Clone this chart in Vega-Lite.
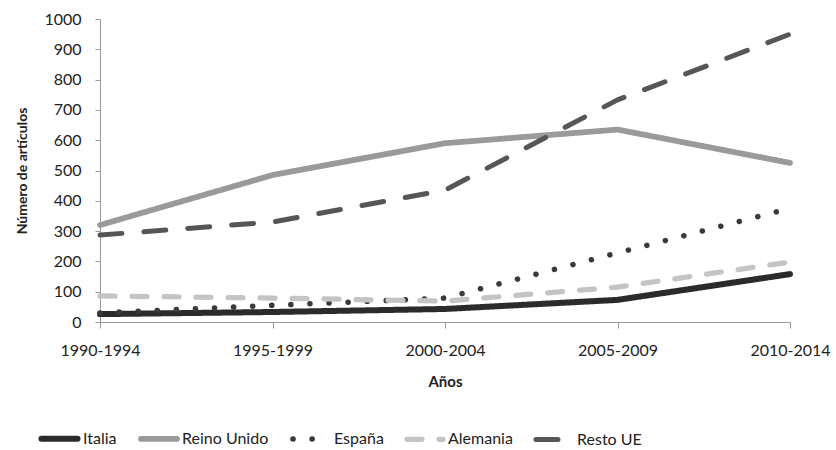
{
  "$schema": "https://vega.github.io/schema/vega-lite/v6.json",
  "width": 690,
  "height": 303,
  "autosize": {"type": "none"},
  "padding": {"left": 100, "top": 19, "right": 46, "bottom": 128},
  "background": "white",
  "config": {
    "view": {"stroke": null},
    "font": "Lato",
    "axis": {"labelFont": "Lato", "titleFont": "Lato", "labelColor": "#222", "titleColor": "#222", "grid": false, "domainColor": "#999", "tickColor": "#999"},
    "legend": {"labelFont": "Lato"}
  },
  "data": {
    "values": [
      {"periodo": "1990-1994", "serie": "Italia", "valor": 26},
      {"periodo": "1995-1999", "serie": "Italia", "valor": 33},
      {"periodo": "2000-2004", "serie": "Italia", "valor": 43},
      {"periodo": "2005-2009", "serie": "Italia", "valor": 73},
      {"periodo": "2010-2014", "serie": "Italia", "valor": 158},
      {"periodo": "1990-1994", "serie": "Reino Unido", "valor": 320},
      {"periodo": "1995-1999", "serie": "Reino Unido", "valor": 485},
      {"periodo": "2000-2004", "serie": "Reino Unido", "valor": 590},
      {"periodo": "2005-2009", "serie": "Reino Unido", "valor": 635},
      {"periodo": "2010-2014", "serie": "Reino Unido", "valor": 525},
      {"periodo": "1990-1994", "serie": "España", "valor": 30},
      {"periodo": "1995-1999", "serie": "España", "valor": 55},
      {"periodo": "2000-2004", "serie": "España", "valor": 79},
      {"periodo": "2005-2009", "serie": "España", "valor": 228},
      {"periodo": "2010-2014", "serie": "España", "valor": 375},
      {"periodo": "1990-1994", "serie": "Alemania", "valor": 86},
      {"periodo": "1995-1999", "serie": "Alemania", "valor": 79},
      {"periodo": "2000-2004", "serie": "Alemania", "valor": 69},
      {"periodo": "2005-2009", "serie": "Alemania", "valor": 115},
      {"periodo": "2010-2014", "serie": "Alemania", "valor": 198},
      {"periodo": "1990-1994", "serie": "Resto UE", "valor": 287},
      {"periodo": "1995-1999", "serie": "Resto UE", "valor": 330},
      {"periodo": "2000-2004", "serie": "Resto UE", "valor": 435},
      {"periodo": "2005-2009", "serie": "Resto UE", "valor": 733},
      {"periodo": "2010-2014", "serie": "Resto UE", "valor": 950}
    ]
  },
  "mark": {"type": "line", "strokeCap": "round", "strokeJoin": "round"},
  "encoding": {
    "x": {
      "field": "periodo", "type": "ordinal",
      "scale": {"type": "point", "padding": 0},
      "axis": {"title": "Años", "labelAngle": 0, "labelFontSize": 16, "labelPadding": 14, "tickSize": 6, "titleFontSize": 15, "titleFontWeight": "bold", "titlePadding": 16, "labelFlush": false}
    },
    "y": {
      "field": "valor", "type": "quantitative",
      "scale": {"domain": [0, 1000], "nice": false},
      "axis": {"title": "Número de artículos", "format": "d", "values": [0,100,200,300,400,500,600,700,800,900,1000], "labelFontSize": 16, "labelPadding": 14, "tickSize": 5, "titleFontSize": 14, "titleFontWeight": "bold", "titlePadding": 14}
    },
    "color": {
      "field": "serie", "type": "nominal",
      "scale": {"domain": ["Italia", "Reino Unido", "España", "Alemania", "Resto UE"], "range": ["#2b2b2b", "#9a9a9a", "#3a3a3a", "#c4c4c4", "#565656"]},
      "legend": {"title": null, "orient": "none", "legendX": -62, "legendY": 398, "direction": "horizontal", "symbolType": "stroke", "symbolSize": 1300, "labelFontSize": 16, "labelColor": "#222", "labelOffset": 2, "columnPadding": 12, "symbolStrokeWidth": 4,
        "encode": {"symbols": {"update": {"strokeCap": {"value": "round"}}}}}
    },
    "strokeDash": {
      "field": "serie", "type": "nominal",
      "scale": {"domain": ["Italia", "Reino Unido", "España", "Alemania", "Resto UE"], "range": [[1, 0], [1, 0], [0.1, 19], [15, 17], [22, 22]]},
      "legend": null
    },
    "strokeWidth": {
      "field": "serie", "type": "nominal",
      "scale": {"domain": ["Italia", "Reino Unido", "España", "Alemania", "Resto UE"], "range": [6, 5, 9, 7, 10]},
      "legend": null
    }
  }
}
